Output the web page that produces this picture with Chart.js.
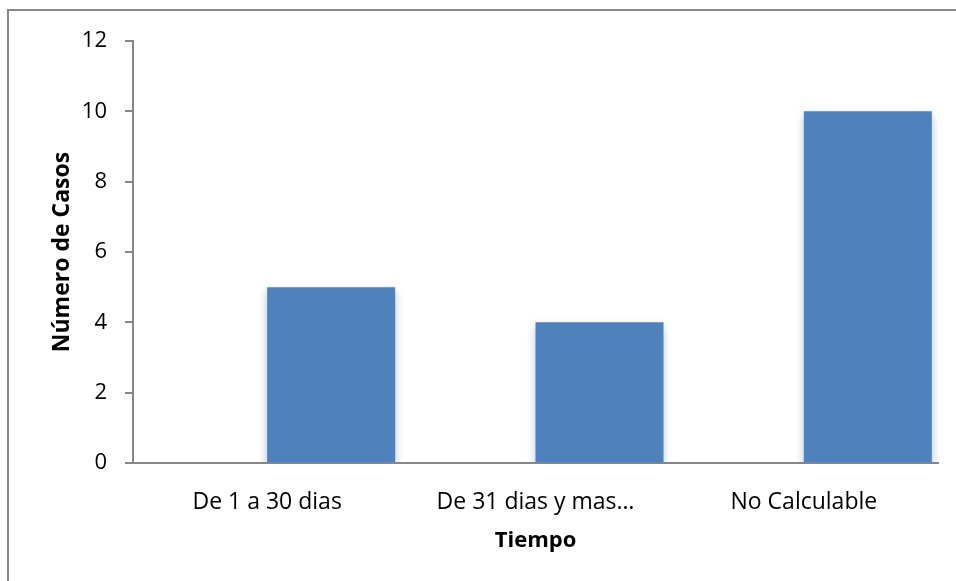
<!DOCTYPE html>
<html lang="es">
<head>
<meta charset="utf-8">
<title>Número de Casos por Tiempo</title>
<script src="https://cdn.jsdelivr.net/npm/chart.js@4.4.1/dist/chart.umd.min.js"></script>
<style>
  html, body { margin: 0; padding: 0; background: #ffffff; }
  canvas { display: block; }
</style>
</head>
<body>
<canvas id="chart" width="956" height="581"></canvas>
<script>
// Categories and counts
const categories = ['De 1 a 30 dias', 'De 31 dias y mas…', 'No Calculable'];
const casos = [5, 4, 10];
// Leading series with no values (keeps the bars in the right half of each category)
const serieVacia = [null, null, null];
// Y axis range
const yMin = 0;
const yMax = 12;
const yStep = 2;

const FONT = '"Open Sans", Lato, "Liberation Sans", sans-serif';
const AXIS_GREY = '#878787';
const BAR_BLUE = '#4F81BD';

// Grey frame around the chart (top and left edges visible)
const framePlugin = {
  id: 'frame',
  beforeDraw(chart) {
    const ctx = chart.ctx;
    ctx.save();
    ctx.strokeStyle = '#878787';
    ctx.lineWidth = 2;
    ctx.beginPath();
    ctx.moveTo(8, chart.height + 2);
    ctx.lineTo(8, 10);
    ctx.lineTo(chart.width + 2, 10);
    ctx.stroke();
    ctx.restore();
  }
};

// Soft glow around the bars
const glowPlugin = {
  id: 'barGlow',
  beforeDatasetDraw(chart, args) {
    const ctx = chart.ctx;
    ctx.save();
    ctx.shadowColor = 'rgba(79,129,189,0.55)';
    ctx.shadowBlur = 9;
    ctx.shadowOffsetX = 0;
    ctx.shadowOffsetY = 5;
  },
  afterDatasetDraw(chart) {
    chart.ctx.restore();
  }
};

new Chart(document.getElementById('chart'), {
  type: 'bar',
  data: {
    labels: categories,
    datasets: [
      { label: '', data: serieVacia, backgroundColor: BAR_BLUE },
      { label: 'Número de Casos', data: casos, backgroundColor: BAR_BLUE, borderWidth: 0 }
    ]
  },
  options: {
    responsive: false,
    animation: false,
    events: [],
    layout: { padding: { top: 41, right: 18, bottom: 0, left: 0 } },
    datasets: {
      bar: { categoryPercentage: 0.954, barPercentage: 1.0 }
    },
    plugins: {
      legend: { display: false },
      tooltip: { enabled: false }
    },
    scales: {
      x: {
        grid: { display: false },
        border: { display: true, color: AXIS_GREY, width: 2 },
        ticks: {
          color: '#000000',
          font: { family: FONT, size: 23 },
          padding: 18,
          maxRotation: 0,
          autoSkip: false
        },
        title: {
          display: true,
          text: 'Tiempo',
          color: '#000000',
          font: { family: FONT, size: 22, weight: 'bold' },
          padding: { top: 0, bottom: 27 }
        },
        afterFit(scale) { scale.height = 118; }
      },
      y: {
        min: yMin,
        max: yMax,
        grid: {
          display: true,
          drawOnChartArea: false,
          drawTicks: true,
          tickLength: 8,
          color: AXIS_GREY,
          lineWidth: 2
        },
        border: { display: true, color: AXIS_GREY, width: 2 },
        ticks: {
          stepSize: yStep,
          color: '#000000',
          font: { family: FONT, size: 22 },
          padding: 18
        },
        title: {
          display: true,
          text: 'Número de Casos',
          color: '#000000',
          font: { family: FONT, size: 23, weight: 'bold' },
          padding: { top: 49, bottom: 0 }
        },
        afterFit(scale) { scale.width = 133; }
      }
    }
  },
  plugins: [framePlugin, glowPlugin]
});
</script>
</body>
</html>
